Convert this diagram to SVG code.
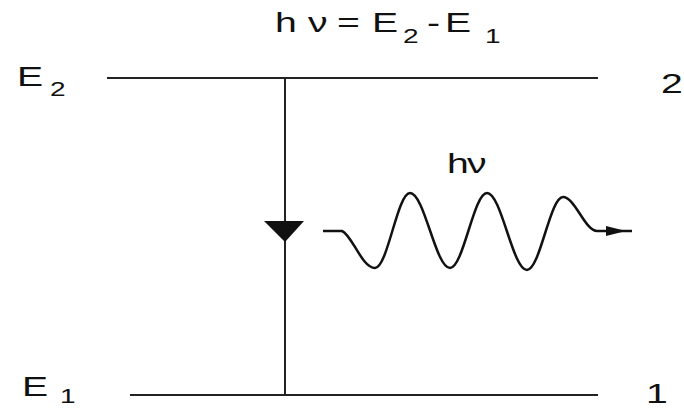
<svg xmlns="http://www.w3.org/2000/svg" width="684" height="410" viewBox="0 0 684 410">
<style>
.t{font-family:"Liberation Sans",Arial,sans-serif;font-size:28px;fill:#111}
.s{font-size:20px}
.ln{stroke:#222;stroke-width:2;fill:none}
.wave{stroke:#111;stroke-width:2.5;fill:none;stroke-linejoin:round}
</style>
<rect width="684" height="410" fill="#fff"/>
<g id="formula">
<text class="t" transform="translate(275,32) scale(1.4,1)"><tspan x="0">h</tspan><tspan x="23.6">ν</tspan><tspan x="44.3">=</tspan><tspan x="69.3">E</tspan><tspan x="91.4" y="11" class="s">2</tspan><tspan x="108.6" y="0">-</tspan><tspan x="121.4">E</tspan><tspan x="150" y="11" class="s">1</tspan></text>
</g>
<g id="level2">
<line class="ln" x1="107" y1="78" x2="598" y2="78"/>
<text class="t" transform="translate(17,86) scale(1.4,1)"><tspan x="0">E</tspan><tspan x="23.6" y="10" class="s">2</tspan></text>
<text class="t" transform="translate(661,93) scale(1.4,1)">2</text>
</g>
<g id="level1">
<line class="ln" x1="130" y1="395" x2="598" y2="395"/>
<text class="t" transform="translate(22,396) scale(1.4,1)"><tspan x="0">E</tspan><tspan x="27.1" y="7" class="s">1</tspan></text>
<text class="t" transform="translate(646,403) scale(1.4,1)">1</text>
</g>
<g id="photon">
<text class="t" transform="translate(447,173) scale(1.4,1)"><tspan x="0">h</tspan><tspan x="14.3">ν</tspan></text>
<path class="wave" d="M323,231 L342,231 C352,235 362,268 375,268 C387.6,268 397.4,193 410,193 C424.4,193 435.6,268 450,268 C463.3,268 473.7,193 487,193 C501.4,193 512.6,270 527,270 C540,270 550,197 563,197 C575,197 585,231 597,231 L632,231"/>
<polygon points="606,226 626,231 606,236" fill="#111"/>
</g>
<g id="connectors">
<line class="ln" x1="285" y1="78" x2="285" y2="395"/>
<polygon points="264,221 304,221 285,242" fill="#111"/>
</g>
</svg>
